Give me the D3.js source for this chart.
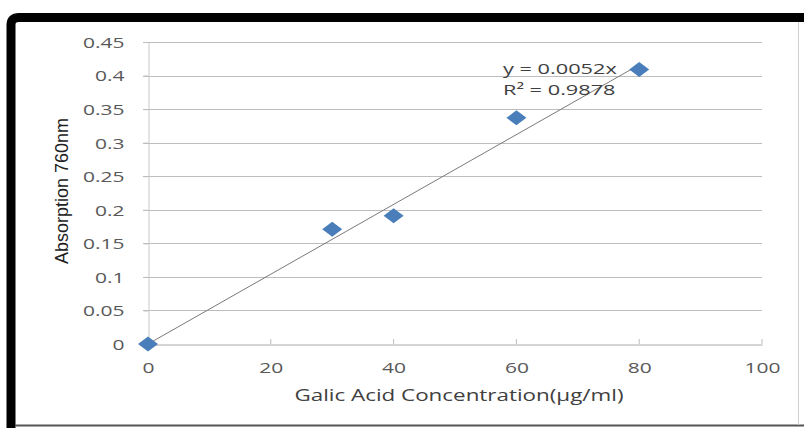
<!DOCTYPE html>
<html><head><meta charset="utf-8">
<script src="https://cdn.jsdelivr.net/npm/d3@7"></script>
<style>body{margin:0;background:#fff}svg{display:block}</style>
</head><body>
<svg id="c" width="804" height="428"></svg>
<script>
const concentrations = [0, 30, 40, 60, 80];
const absorbance = [0, 0.171, 0.191, 0.337, 0.409];
const xTicks = [0, 20, 40, 60, 80, 100];
const yTicks = [0, 0.05, 0.1, 0.15, 0.2, 0.25, 0.3, 0.35, 0.4, 0.45];
const slope = 0.0052;
const eqLabel = "y = 0.0052x";
const r2Label = "R² = 0.9878";
const xTitle = "Galic Acid Concentration(µg/ml)";
const yTitle = "Absorption 760nm";

const K = 1.4; // horizontal stretch of the reference picture
const svg = d3.select("#c");
// frame
svg.append("path")
  .attr("d", "M11,428 L11,25 Q11,17.5 19,17.5 L804,17.5")
  .attr("fill", "none").attr("stroke", "#000").attr("stroke-width", 9);
svg.append("line").attr("x1", 15).attr("x2", 804).attr("y1", 425.5).attr("y2", 425.5)
  .attr("stroke", "#555").attr("stroke-width", 2);
svg.append("line").attr("x1", 798.5).attr("x2", 798.5).attr("y1", 22).attr("y2", 425)
  .attr("stroke", "#d0d0d0").attr("stroke-width", 1);

const x = d3.scaleLinear().domain([0, 100]).range([148, 762]);
const y = d3.scaleLinear().domain([0, 0.45]).range([344, 42]);

// gridlines
svg.append("g").selectAll("line").data(yTicks.filter(d => d > 0)).join("line")
  .attr("x1", 143).attr("x2", 762)
  .attr("y1", d => Math.round(y(d)) + 0.5).attr("y2", d => Math.round(y(d)) + 0.5)
  .attr("stroke", "#bdbdbd").attr("stroke-width", 1.2);

const tickFont = "15px 'Open Sans', sans-serif";
// y axis
const yAxis = d3.axisLeft(y).tickValues(yTicks).tickFormat(d => String(+d.toFixed(2))).tickSize(5).tickPadding(0);
const gy = svg.append("g").attr("transform", "translate(148.5,0)").call(yAxis);
gy.select(".domain").attr("stroke", "#c8c8c8");
gy.selectAll(".tick line").attr("stroke", "#bdbdbd");
gy.selectAll(".tick text").attr("fill", "#595959").style("font", tickFont)
  .attr("x", -24 / K).attr("dy", "0.36em").attr("transform", `scale(${K},1)`);

// x axis
const xAxis = d3.axisBottom(x).tickValues(xTicks).tickSize(0).tickPadding(0);
const gx = svg.append("g").attr("transform", "translate(0,344.5)").call(xAxis);
gx.select(".domain").attr("stroke", "#a8a8a8");
gx.selectAll(".tick text").attr("fill", "#595959").style("font", tickFont)
  .attr("y", 28.5).attr("dy", 0).attr("transform", `scale(${K},1)`);
svg.append("g").selectAll("line").data(xTicks.filter(d => d > 0)).join("line")
  .attr("x1", d => x(d)).attr("x2", d => x(d)).attr("y1", 339).attr("y2", 344)
  .attr("stroke", "#bdbdbd");

// trendline
svg.append("line")
  .attr("x1", x(0)).attr("y1", y(0))
  .attr("x2", x(d3.max(concentrations))).attr("y2", y(slope * d3.max(concentrations)))
  .attr("stroke", "#7a7a7a").attr("stroke-width", 1);

// markers
const diamond = "M0,-7.5 L10,0 L0,7.5 L-10,0 Z";
svg.append("g").selectAll("path").data(concentrations).join("path")
  .attr("d", diamond)
  .attr("transform", (d, i) => `translate(${x(d)},${y(absorbance[i])})`)
  .attr("fill", "#4a7ebb");

function stretched(tx, ty, txt, font, fill, anchor, k) {
  svg.append("text").attr("transform", `translate(${tx},${ty}) scale(${k},1)`)
    .attr("text-anchor", anchor || "start").text(txt)
    .attr("fill", fill).style("font", font);
}
// equation
stretched(503, 74, eqLabel, "15px 'Open Sans', sans-serif", "#404040", "start", 1.45);
stretched(503, 95, r2Label, "15px 'Open Sans', sans-serif", "#404040", "start", 1.45);

// titles
stretched(459, 401, xTitle, "16px 'Open Sans', sans-serif", "#404040", "middle", K);
svg.append("text").attr("transform", "translate(68,191) rotate(-90)").attr("text-anchor", "middle")
  .text(yTitle).attr("fill", "#222")
  .style("font", "18px 'Liberation Sans Narrow', 'Liberation Sans', sans-serif");
</script>
</body></html>
